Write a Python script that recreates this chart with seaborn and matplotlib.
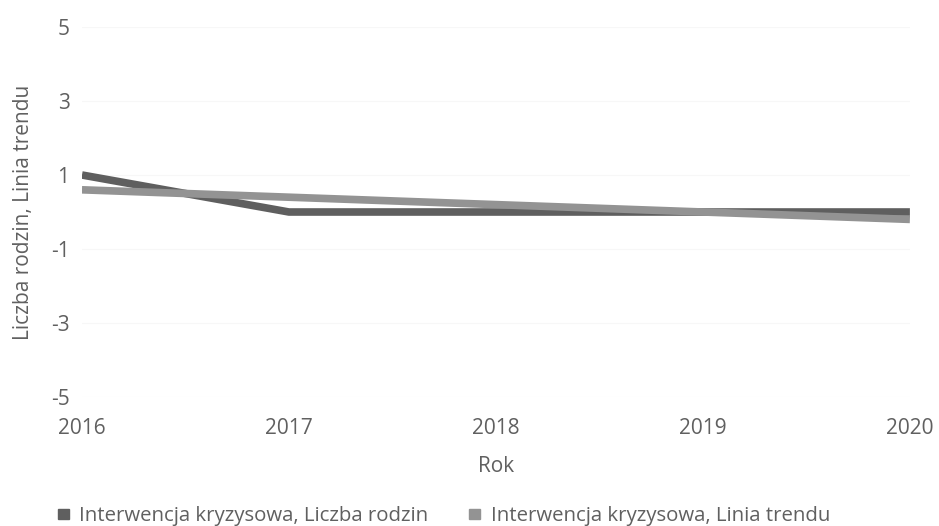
import matplotlib
matplotlib.use("Agg")
import matplotlib.pyplot as plt
import matplotlib.patches as mpatches
import seaborn as sns
import pandas as pd

years = [2016, 2017, 2018, 2019, 2020]
liczba_rodzin = [1.0, 0.0, 0.0, 0.0, 0.0]
linia_trendu = [0.6, 0.4, 0.2, 0.0, -0.2]
series_names = ["Interwencja kryzysowa, Liczba rodzin", "Interwencja kryzysowa, Linia trendu"]
colors = ["#5f5f5f", "#939393"]
y_ticks = [-5, -3, -1, 1, 3, 5]

sns.set_theme(style="white")
plt.rcParams['font.family'] = ['Open Sans', 'DejaVu Sans']
plt.rcParams['axes.unicode_minus'] = False

df = pd.DataFrame({
    "Rok": years * 2,
    "value": liczba_rodzin + linia_trendu,
    "series": [series_names[0]] * len(years) + [series_names[1]] * len(years),
})

text_color = "#606060"

fig = plt.figure(figsize=(9.39, 5.26), dpi=100)
ax = fig.add_axes([0.0873, 0.2452, 0.8817, 0.7035])

sns.lineplot(data=df, x="Rok", y="value", hue="series", palette=colors,
             linewidth=5.5, ax=ax, legend=False, solid_capstyle="butt")

ax.set_xlim(2016, 2020)
ax.set_ylim(-5, 5)
ax.set_xticks(years)
ax.set_yticks(y_ticks)
ax.set_xticklabels([str(y) for y in years])
ax.set_yticklabels([str(v) for v in y_ticks])
ax.grid(axis="y", color="#f7f7f7", linewidth=0.8)
for s in ax.spines.values():
    s.set_visible(False)
ax.tick_params(axis="both", length=0, labelsize=15, labelcolor=text_color)
ax.tick_params(axis="x", pad=15)
ax.tick_params(axis="y", pad=9)

ax.set_xlabel("Rok", fontsize=15, color=text_color, labelpad=12)
ax.set_ylabel("Liczba rodzin, Linia trendu", fontsize=15, color=text_color, labelpad=12)

handles = [mpatches.Rectangle((0, 0), 1, 1, facecolor=c, edgecolor=c) for c in colors]
fig.legend(handles, series_names, loc="lower left", bbox_to_anchor=(0.042, -0.035),
           ncol=2, frameon=False, fontsize=14.7, handletextpad=0.5,
           columnspacing=2.0, labelcolor=text_color, handlelength=0.55,
           handleheight=0.4)

fig.savefig("out.png", dpi=100)
